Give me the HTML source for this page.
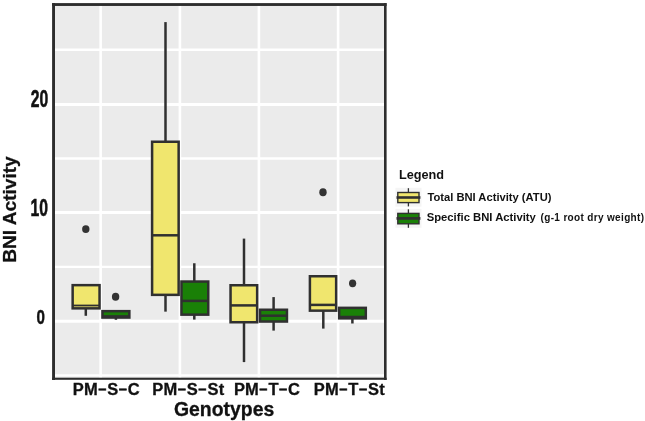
<!DOCTYPE html>
<html>
<head>
<meta charset="utf-8">
<title>BNI Activity by Genotype</title>
<style>
  html, body { margin: 0; padding: 0; background: #ffffff; }
  body { width: 645px; height: 421px; overflow: hidden; }
  svg { display: block; will-change: transform; }
  text { font-family: "Liberation Sans", sans-serif; font-weight: bold; fill: #111111; }
  text.xl { letter-spacing: 0.22px; stroke: #111111; stroke-width: 0.3px; }
  text.ttl { stroke: #111111; stroke-width: 0.3px; }
  tspan.mn { font-size: 13.5px; stroke: #111111; stroke-width: 0.7px; }
</style>
</head>
<body>
<svg width="645" height="421" viewBox="0 0 645 421">
  <rect x="0" y="0" width="645" height="421" fill="#ffffff"/>

  <!-- panel background -->
  <rect x="53.5" y="4.5" width="331.8" height="374.1" fill="#ebebeb"/>

  <!-- horizontal grid lines -->
  <g stroke="#ffffff" stroke-width="2.4">
    <line x1="53.5" x2="385.3" y1="49.8" y2="49.8"/>
    <line x1="53.5" x2="385.3" y1="104.5" y2="104.5" stroke-width="2.9"/>
    <line x1="53.5" x2="385.3" y1="158.5" y2="158.5"/>
    <line x1="53.5" x2="385.3" y1="212.5" y2="212.5" stroke-width="2.9"/>
    <line x1="53.5" x2="385.3" y1="266.9" y2="266.9"/>
    <line x1="53.5" x2="385.3" y1="321.2" y2="321.2" stroke-width="2.9"/>
    <line x1="53.5" x2="385.3" y1="375.4" y2="375.4"/>
  </g>
  <!-- vertical grid lines -->
  <g stroke="#ffffff" stroke-width="2.6">
    <line y1="4.5" y2="378.6" x1="100.65" x2="100.65"/>
    <line y1="4.5" y2="378.6" x1="179.9" x2="179.9"/>
    <line y1="4.5" y2="378.6" x1="258.9" x2="258.9"/>
    <line y1="4.5" y2="378.6" x1="338.1" x2="338.1"/>
  </g>

  <!-- whiskers -->
  <g stroke="#303030" stroke-width="2.5" fill="none">
    <line x1="85.8" x2="85.8" y1="308" y2="315.8"/>
    <line x1="115.9" x2="115.9" y1="318" y2="319.8"/>
    <line x1="165.5" x2="165.5" y1="22.1" y2="142"/>
    <line x1="165.5" x2="165.5" y1="295" y2="311.65"/>
    <line x1="194.3" x2="194.3" y1="263.25" y2="282"/>
    <line x1="194.3" x2="194.3" y1="315" y2="319.6"/>
    <line x1="244" x2="244" y1="238.6" y2="285"/>
    <line x1="244" x2="244" y1="322" y2="362.1"/>
    <line x1="273.6" x2="273.6" y1="297.1" y2="310"/>
    <line x1="273.6" x2="273.6" y1="322" y2="330.6"/>
    <line x1="323.3" x2="323.3" y1="310" y2="328.6"/>
    <line x1="352.4" x2="352.4" y1="318" y2="323.5"/>
  </g>

  <!-- boxes -->
  <g stroke="#303030" stroke-width="2.5">
    <!-- PM-S-C -->
    <rect x="72.65" y="285.15" width="26.9" height="23.2" fill="#f0e66e"/>
    <line x1="72.65" x2="99.55" y1="305.5" y2="305.5" stroke-width="1.8"/>
    <rect x="102.45" y="311.15" width="26.9" height="6.4" fill="#1a8007"/>
    <line x1="102.45" x2="129.35" y1="316.4" y2="316.4"/>
    <!-- PM-S-St -->
    <rect x="152.1" y="141.75" width="26.55" height="153.1" fill="#f0e66e"/>
    <line x1="152.1" x2="178.65" y1="235.3" y2="235.3"/>
    <rect x="181.45" y="281.55" width="26.8" height="33.1" fill="#1a8007"/>
    <line x1="181.45" x2="208.25" y1="300.9" y2="300.9"/>
    <!-- PM-T-C -->
    <rect x="230.55" y="285.25" width="26.6" height="37" fill="#f0e66e"/>
    <line x1="230.55" x2="257.15" y1="305.4" y2="305.4"/>
    <rect x="260.05" y="309.75" width="26.9" height="11.8" fill="#1a8007"/>
    <line x1="260.05" x2="286.95" y1="315.7" y2="315.7"/>
    <!-- PM-T-St -->
    <rect x="309.9" y="276.25" width="26.25" height="34.4" fill="#f0e66e"/>
    <line x1="309.9" x2="336.15" y1="304.9" y2="304.9"/>
    <rect x="339.15" y="307.85" width="26.65" height="10.5" fill="#1a8007"/>
    <line x1="339.15" x2="365.8" y1="317" y2="317"/>
  </g>

  <!-- outliers -->
  <g fill="#333333">
    <ellipse cx="85.8" cy="229.1" rx="3.7" ry="3.95"/>
    <ellipse cx="115.6" cy="296.8" rx="3.7" ry="3.95"/>
    <ellipse cx="323" cy="192.2" rx="3.7" ry="3.95"/>
    <ellipse cx="352.6" cy="283.3" rx="3.6" ry="3.9"/>
  </g>

  <!-- panel border -->
  <g fill="#2d2d2d">
    <rect x="52.1" y="3.1" width="2.9" height="376.9"/>
    <rect x="52.1" y="3.1" width="334.5" height="2.85"/>
    <rect x="384" y="3.1" width="2.6" height="376.9"/>
    <rect x="52.1" y="377.7" width="334.5" height="2.1"/>
  </g>

  <!-- y axis tick labels -->
  <text transform="translate(48.15,106.6) scale(0.65,1)" text-anchor="end" font-size="24.2" stroke="#111111" stroke-width="0.5" vector-effect="non-scaling-stroke">20</text>
  <text transform="translate(48.1,215.6) scale(0.65,1)" text-anchor="end" font-size="24.2" stroke="#111111" stroke-width="0.5" vector-effect="non-scaling-stroke">10</text>
  <text transform="translate(44.8,324.2) scale(0.72,1)" text-anchor="end" font-size="21" stroke="#111111" stroke-width="0.4" vector-effect="non-scaling-stroke">0</text>

  <!-- y axis title -->
  <text class="ttl" transform="translate(16.3,209.5) rotate(-90)" text-anchor="middle" font-size="19.1">BNI Activity</text>

  <!-- x axis tick labels -->
  <text class="xl" transform="translate(72.7,395.2) scale(1.03,1)" font-size="16">PM<tspan class="mn" dy="-1.5" dx="0.5">−</tspan><tspan dy="1.5" dx="0.5">S</tspan><tspan class="mn" dy="-1.5" dx="0.5">−</tspan><tspan dy="1.5" dx="0.5">C</tspan></text>
  <text class="xl" transform="translate(152.3,395.2) scale(1.03,1)" font-size="16">PM<tspan class="mn" dy="-1.5" dx="0.5">−</tspan><tspan dy="1.5" dx="0.5">S</tspan><tspan class="mn" dy="-1.5" dx="0.5">−</tspan><tspan dy="1.5" dx="0.5">St</tspan></text>
  <text class="xl" transform="translate(233.9,395.2) scale(1.03,1)" font-size="16">PM<tspan class="mn" dy="-1.5" dx="0.5">−</tspan><tspan dy="1.5" dx="0.5">T</tspan><tspan class="mn" dy="-1.5" dx="0.5">−</tspan><tspan dy="1.5" dx="0.5">C</tspan></text>
  <text class="xl" transform="translate(313.8,395.2) scale(1.03,1)" font-size="16">PM<tspan class="mn" dy="-1.5" dx="0.5">−</tspan><tspan dy="1.5" dx="0.5">T</tspan><tspan class="mn" dy="-1.5" dx="0.5">−</tspan><tspan dy="1.5" dx="0.5">St</tspan></text>

  <!-- x axis title -->
  <text class="ttl" transform="translate(224.1,416.3) scale(1,1.07)" text-anchor="middle" font-size="19.4">Genotypes</text>

  <!-- legend -->
  <text x="398.9" y="179.1" font-size="12.7">Legend</text>

  <rect x="395.4" y="187.8" width="26.1" height="18.9" fill="#f5f5f5"/>
  <line x1="408.4" x2="408.4" y1="188.2" y2="206.4" stroke="#303030" stroke-width="1.3"/>
  <rect x="397.8" y="192.5" width="21.2" height="10.1" fill="#f0e66e" stroke="#303030" stroke-width="1.4"/>
  <line x1="396.5" x2="420.4" y1="197.5" y2="197.5" stroke="#303030" stroke-width="2.6"/>

  <rect x="395.4" y="208.9" width="26.1" height="18.9" fill="#f5f5f5"/>
  <line x1="408.4" x2="408.4" y1="209.3" y2="227.8" stroke="#303030" stroke-width="1.3"/>
  <rect x="397.8" y="213.4" width="21.2" height="10.4" fill="#1a8007" stroke="#303030" stroke-width="1.4"/>
  <line x1="396.5" x2="420.4" y1="218.4" y2="218.4" stroke="#303030" stroke-width="2.7"/>

  <text x="427.4" y="201" font-size="11.2">Total BNI Activity (ATU)</text>
  <text x="426.7" y="221.2" font-size="11.28">Specific BNI Activity <tspan font-size="10" letter-spacing="0.34" dx="1.6">(g-1 root dry weight)</tspan></text>
</svg>
</body>
</html>
